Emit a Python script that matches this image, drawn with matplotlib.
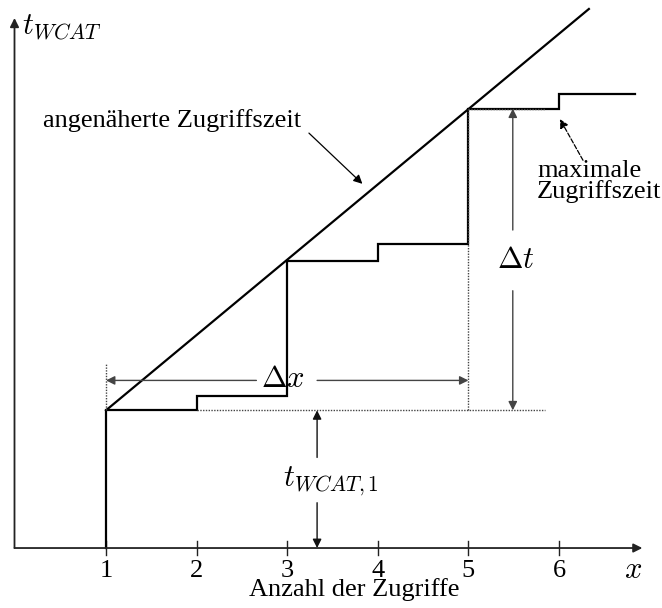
import matplotlib.pyplot as plt

plt.rcParams['font.family'] = ['Liberation Serif', 'DejaVu Serif']
plt.rcParams['mathtext.fontset'] = 'cm'

# step function: maximale Zugriffszeit
step_x = [1, 2, 3, 4, 5, 6, 6.84]
step_t = [1.52, 1.68, 3.17, 3.36, 4.85, 5.01, 5.01]
# approximated access time (straight line)
line_x = [1, 6.33]
line_t = [1.52, 5.95]
tick_pos = [1, 2, 3, 4, 5, 6]
tick_labels = ['1', '2', '3', '4', '5', '6']

fig = plt.figure(figsize=(6.62, 6.08), dpi=100)
ax = fig.add_axes([0, 0, 1, 1])
ax.set_xlim(-0.170, 7.137)
ax.set_ylim(-0.662, 6.049)
ax.axis('off')

black = '#000000'
gray = '#444444'

# axes with arrows
ax.annotate('', xy=(6.92, 0), xytext=(-0.01, 0),
            arrowprops=dict(arrowstyle='-|>', lw=1.3, color='#222222',
                            mutation_scale=13, shrinkA=0, shrinkB=0))
ax.annotate('', xy=(-0.01, 5.85), xytext=(-0.01, 0),
            arrowprops=dict(arrowstyle='-|>', lw=1.3, color='#222222',
                            mutation_scale=13, shrinkA=0, shrinkB=0))
for xp, lab in zip(tick_pos, tick_labels):
    ax.plot([xp, xp], [-0.08, 0.08], color='#222222', lw=1.0)
    ax.text(xp, -0.325, lab, ha='center', va='baseline', fontsize=19)
ax.text(6.82, -0.25, '$x$', ha='center', va='center', fontsize=22)
ax.text(3.74, -0.525, 'Anzahl der Zugriffe', ha='center', va='baseline', fontsize=19)
ax.text(0.075, 5.745, '$t_{WCAT}$', ha='left', va='center', fontsize=22)

# step curve from 0 up at x=1
xs = [1]
ts = [0]
for i in range(len(step_x) - 1):
    xs += [step_x[i], step_x[i + 1]]
    ts += [step_t[i], step_t[i]]
    if i + 1 < len(step_x) - 1:
        xs.append(step_x[i + 1])
        ts.append(step_t[i + 1])
ax.plot(xs, ts, color=black, lw=1.6, solid_joinstyle='miter')
ax.plot(line_x, line_t, color=black, lw=1.6)

# dotted helper lines
dot = dict(color=gray, lw=1.0, ls=(0, (1, 1)))
ax.plot([2, 5.85], [step_t[0], step_t[0]], **dot)
ax.plot([5, 5.85], [step_t[4], step_t[4]], **dot)
ax.plot([5, 5], [step_t[0], step_t[4]], **dot)
ax.plot([1, 1], [step_t[0], 2.04], **dot)

arr = dict(arrowstyle='-|>', lw=1.0, color=gray, mutation_scale=13,
           shrinkA=0, shrinkB=0)
arr_k = dict(arr, color='#111111')

# delta x
ax.annotate('', xy=(1, 1.85), xytext=(2.66, 1.85), arrowprops=arr)
ax.annotate('', xy=(5, 1.85), xytext=(3.33, 1.85), arrowprops=arr)
ax.text(2.95, 1.865, r'$\Delta x$', ha='center', va='center', fontsize=22)

# delta t
ax.annotate('', xy=(5.49, step_t[4]), xytext=(5.49, 3.51), arrowprops=arr)
ax.annotate('', xy=(5.49, step_t[0]), xytext=(5.49, 2.84), arrowprops=arr)
ax.text(5.52, 3.17, r'$\Delta t$', ha='center', va='center', fontsize=22)

# t_WCAT,1
ax.annotate('', xy=(3.33, step_t[0]), xytext=(3.33, 1.00), arrowprops=arr_k)
ax.annotate('', xy=(3.33, 0), xytext=(3.33, 0.50), arrowprops=arr_k)
ax.text(3.48, 0.735, '$t_{WCAT,1}$', ha='center', va='center', fontsize=22)

# labels with pointers
ax.text(1.73, 4.72, 'angenäherte Zugriffszeit', ha='center', va='center', fontsize=19)
ax.annotate('', xy=(3.83, 4.02), xytext=(3.24, 4.58),
            arrowprops=dict(arrowstyle='-|>', lw=0.9, color=black,
                            mutation_scale=13, shrinkA=0, shrinkB=0))
ax.text(5.757, 4.095, 'maximale', ha='left', va='baseline', fontsize=19)
ax.text(5.757, 3.865, 'Zugriffszeit', ha='left', va='baseline', fontsize=19)
ax.annotate('', xy=(6.01, 4.735), xytext=(6.265, 4.28),
            arrowprops=dict(arrowstyle='-|>', lw=0.9, color=black, ls='--',
                            mutation_scale=13, shrinkA=0, shrinkB=0))

plt.savefig('out.png', dpi=100)
